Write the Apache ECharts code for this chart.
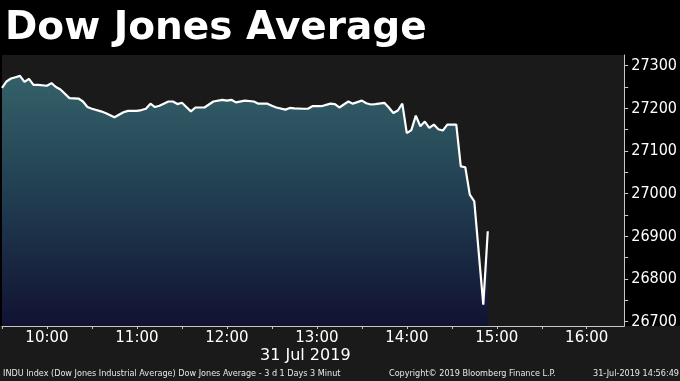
<!DOCTYPE html>
<html>
<head>
<meta charset="utf-8">
<script src="https://cdn.jsdelivr.net/npm/echarts@6/dist/echarts.min.js"></script>
<style>html,body{margin:0;padding:0;background:#000;}#c{width:680px;height:381px;}</style>
</head>
<body>
<div id="c"></div>
<script>
const times = ['09:30','09:33','09:36','09:39','09:42','09:45','09:48','09:51','09:54','10:00',
  '10:03','10:06','10:09','10:15','10:21','10:24','10:27','10:30','10:36','10:39',
  '10:45','10:48','10:51','10:54','11:00','11:03','11:06','11:09','11:12','11:15',
  '11:21','11:24','11:27','11:30','11:36','11:39','11:45','11:51','11:57','12:00',
  '12:03','12:06','12:12','12:18','12:21','12:27','12:30','12:33','12:39','12:42',
  '12:45','12:51','12:54','12:57','13:03','13:09','13:12','13:15','13:21','13:24',
  '13:30','13:33','13:36','13:39','13:45','13:48','13:51','13:54','13:57','14:00',
  '14:03','14:06','14:09','14:12','14:15','14:18','14:21','14:24','14:27','14:30',
  '14:33','14:36','14:39','14:42','14:45','14:51','14:54'];
const values = [27248,27263,27270,27273,27276,27262,27269,27255,27255,27253,
  27259,27250,27244,27224,27223,27216,27203,27199,27193,27189,
  27179,27185,27191,27194,27194,27196,27199,27211,27203,27206,
  27216,27216,27210,27213,27193,27202,27202,27216,27220,27218,
  27220,27214,27218,27216,27211,27211,27206,27202,27197,27201,
  27200,27199,27199,27205,27205,27211,27210,27202,27216,27211,
  27218,27212,27209,27210,27213,27202,27189,27195,27211,27142,
  27149,27183,27158,27169,27154,27162,27151,27148,27162,27162,
  27162,27064,27062,26998,26982,26740,26912];
const xTickLabels = ['10:00','11:00','12:00','13:00','14:00','15:00','16:00'];
const yTickLabels = [26700,26800,26900,27000,27100,27200,27300];
const dateLabel = '31 Jul 2019';
const titleText = 'Dow Jones Average';
const footerLeft = 'INDU Index (Dow Jones Industrial Average) Dow Jones Average - 3 d 1 Days 3 Minut';
const footerMid = 'Copyright\u00A9 2019 Bloomberg Finance L.P.';
const footerRight = '31-Jul-2019 14:56:49';

function toMin(s){ const p = s.split(':').map(Number); return p[0]*60 + p[1]; }
function fmt(m){ const h = Math.floor(m/60), mm = m%60; return h + ':' + (mm<10?'0':'') + mm; }

const seriesData = times.map((t,i) => [toMin(t), values[i]]);
const xLabelVals = xTickLabels.map(toMin);
const xTickVals = xLabelVals.flatMap(v => [v-30, v]);
const yTickVals = yTickLabels.flatMap((v,i) => i ? [v-50, v] : [v]);

const chart = echarts.init(document.getElementById('c'), null, {renderer:'canvas'});
chart.setOption({
  backgroundColor: '#000',
  animation: false,
  title: {
    text: titleText, left: 0, top: 4,
    textStyle: { color:'#fff', fontSize: 39, fontWeight:'bold', fontFamily:'DejaVu Sans' }
  },
  grid: { left: 2, right: 55, top: 55, bottom: 55, show: true, backgroundColor:'#1a1a1a', borderWidth: 0 },
  xAxis: {
    type: 'value', min: 570, max: 985,
    axisLine: { show: true, lineStyle: { color:'#c8c8c8', width: 1 } },
    axisTick: { show: true, customValues: xTickVals, length: 3, lineStyle: { color:'#c8c8c8' } },
    axisLabel: { customValues: xLabelVals, formatter: v => fmt(v), color:'#fff', fontSize: 15, fontFamily:'DejaVu Sans', margin: 5 },
    splitLine: { show: false }
  },
  yAxis: {
    type: 'value', position: 'right', min: 26690, max: 27325,
    axisLine: { show: true, lineStyle: { color:'#c8c8c8', width: 1 } },
    axisTick: { show: true, customValues: yTickVals, length: 4, lineStyle: { color:'#c8c8c8' } },
    axisLabel: { customValues: yTickLabels, formatter: v => String(v), color:'#fff', fontSize: 16, fontFamily:'DejaVu Sans Condensed', margin: 7 },
    splitLine: { show: false }
  },
  graphic: [
    { type:'rect', left:0, top:326, z:-10, shape:{ width:680, height:55 }, style:{ fill:'#1a1a1a' } },
    { type:'text', left: 260, top: 348, style:{ text: dateLabel, fill:'#fff', fontSize:16, fontFamily:'DejaVu Sans' } },
    { type:'text', left: 3, top: 369, style:{ text: footerLeft, fill:'#e8e8e8', fontSize:9, fontFamily:'DejaVu Sans Condensed' } },
    { type:'text', left: 389, top: 369, style:{ text: footerMid, fill:'#e8e8e8', fontSize:9, fontFamily:'DejaVu Sans Condensed' } },
    { type:'text', left: 593, top: 369, style:{ text: footerRight, fill:'#e8e8e8', fontSize:9, fontFamily:'DejaVu Sans Condensed' } }
  ],
  series: [{
    type: 'line', data: seriesData, showSymbol: false, symbol: 'none',
    lineStyle: { color:'#fff', width: 2.2 },
    areaStyle: { origin: 'start', color: new echarts.graphic.LinearGradient(0,0,0,1,[
      { offset: 0, color: '#3f7f8b' },
      { offset: 0.45, color: '#25506a' },
      { offset: 1, color: '#0d0f3d' }
    ]) }
  }]
});
</script>
</body>
</html>
